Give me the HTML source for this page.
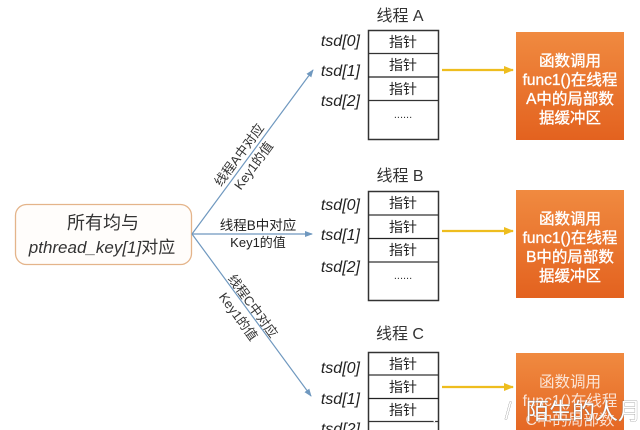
<!DOCTYPE html>
<html><head><meta charset="utf-8"><style>
html,body{margin:0;padding:0;background:#fff;width:640px;height:430px;overflow:hidden;}
svg{display:block;overflow:hidden;}
text{font-family:"Liberation Sans","Noto Sans CJK SC",sans-serif;}
</style></head><body>
<svg width="640" height="430" viewBox="0 0 640 430" xmlns="http://www.w3.org/2000/svg">
<defs>
<linearGradient id="og" x1="0" y1="0" x2="0" y2="1">
<stop offset="0" stop-color="#f08a40"/><stop offset="1" stop-color="#e3621f"/>
</linearGradient>
<clipPath id="cp"><rect x="0" y="0" width="640" height="430"/></clipPath>
<marker id="ab" markerWidth="8" markerHeight="8" refX="7" refY="4" orient="auto" markerUnits="userSpaceOnUse">
<path d="M0,1 L8,4 L0,7 Z" fill="#6f98bf"/></marker>
<marker id="ay" markerWidth="10" markerHeight="10" refX="9" refY="5" orient="auto" markerUnits="userSpaceOnUse">
<path d="M0,1 L10,5 L0,9 Z" fill="#eebd1e"/></marker>
</defs>
<g clip-path="url(#cp)">
<!-- left box -->
<rect x="15.5" y="204.5" width="176" height="60" rx="11" fill="#fffdfb" stroke="#e4b48a" stroke-width="1.3"/>
<text x="103" y="229" font-size="18" fill="#333" text-anchor="middle">所有均与</text>
<text x="102" y="253" font-size="17" fill="#333" text-anchor="middle"><tspan font-style="italic">pthread_key[1]</tspan>对应</text>

<!-- blue connectors -->
<line x1="192" y1="234" x2="313" y2="70" stroke="#6f98bf" stroke-width="1.2" marker-end="url(#ab)"/>
<line x1="192" y1="234" x2="312" y2="234" stroke="#6f98bf" stroke-width="1.2" marker-end="url(#ab)"/>
<line x1="192" y1="234" x2="311" y2="396" stroke="#6f98bf" stroke-width="1.2" marker-end="url(#ab)"/>

<g transform="translate(246,160) rotate(-53.6)" font-size="13" fill="#333" text-anchor="middle">
<text x="0" y="-4">线程A中对应</text><text x="0" y="14">Key1的值</text></g>
<text x="258" y="230" font-size="13.5" fill="#222" text-anchor="middle">线程B中对应</text>
<text x="258" y="247" font-size="13" fill="#222" text-anchor="middle">Key1的值</text>
<g transform="translate(246,311) rotate(54)" font-size="13" fill="#333" text-anchor="middle">
<text x="0" y="-4">线程C中对应</text><text x="0" y="14">Key1的值</text></g>

<!-- Section A -->
<text x="400" y="21" font-size="16" fill="#333" text-anchor="middle">线程 A</text>
<g font-size="16" font-style="italic" fill="#222" text-anchor="end">
<text x="360" y="46">tsd[0]</text><text x="360" y="76">tsd[1]</text><text x="360" y="106">tsd[2]</text></g>
<rect x="368.5" y="30.5" width="70" height="109" fill="#fff" stroke="#333" stroke-width="1.5"/>
<line x1="368" y1="53.5" x2="439" y2="53.5" stroke="#333" stroke-width="1.2"/>
<line x1="368" y1="77" x2="439" y2="77" stroke="#222" stroke-width="1.2"/>
<line x1="368" y1="100.5" x2="439" y2="100.5" stroke="#333" stroke-width="1.2"/>
<g font-size="14" fill="#222" text-anchor="middle">
<text x="403" y="47">指针</text><text x="403" y="70">指针</text><text x="403" y="94">指针</text></g>
<text x="403" y="118" font-size="11" fill="#333" text-anchor="middle">......</text>
<line x1="442" y1="70" x2="513" y2="70" stroke="#eebd1e" stroke-width="2.2" marker-end="url(#ay)"/>
<rect x="516" y="32" width="108" height="108" fill="url(#og)"/>
<g font-size="15.5" fill="#fff" stroke="#fff" stroke-width="0.35" text-anchor="middle">
<text x="570" y="66">函数调用</text><text x="570" y="85">func1()在线程</text><text x="570" y="104">A中的局部数</text><text x="570" y="123">据缓冲区</text></g>

<!-- Section B -->
<text x="400" y="181" font-size="16" fill="#333" text-anchor="middle">线程 B</text>
<g font-size="16" font-style="italic" fill="#222" text-anchor="end">
<text x="360" y="210">tsd[0]</text><text x="360" y="240">tsd[1]</text><text x="360" y="272">tsd[2]</text></g>
<rect x="368.5" y="191.5" width="70" height="109" fill="#fff" stroke="#333" stroke-width="1.5"/>
<line x1="368" y1="215" x2="439" y2="215" stroke="#333" stroke-width="1.2"/>
<line x1="368" y1="238.5" x2="439" y2="238.5" stroke="#222" stroke-width="1.2"/>
<line x1="368" y1="262" x2="439" y2="262" stroke="#333" stroke-width="1.2"/>
<g font-size="14" fill="#222" text-anchor="middle">
<text x="403" y="208">指针</text><text x="403" y="232">指针</text><text x="403" y="255">指针</text></g>
<text x="403" y="279" font-size="11" fill="#333" text-anchor="middle">......</text>
<line x1="442" y1="231" x2="513" y2="231" stroke="#eebd1e" stroke-width="2.2" marker-end="url(#ay)"/>
<rect x="516" y="190" width="108" height="108" fill="url(#og)"/>
<g font-size="15.5" fill="#fff" stroke="#fff" stroke-width="0.35" text-anchor="middle">
<text x="570" y="224">函数调用</text><text x="570" y="243">func1()在线程</text><text x="570" y="262">B中的局部数</text><text x="570" y="281">据缓冲区</text></g>

<!-- Section C -->
<text x="400" y="339" font-size="16" fill="#333" text-anchor="middle">线程 C</text>
<g font-size="16" font-style="italic" fill="#222" text-anchor="end">
<text x="360" y="373">tsd[0]</text><text x="360" y="404">tsd[1]</text><text x="360" y="434">tsd[2]</text></g>
<rect x="368.5" y="352.5" width="70" height="90" fill="#fff" stroke="#333" stroke-width="1.5"/>
<line x1="368" y1="375" x2="439" y2="375" stroke="#333" stroke-width="1.2"/>
<line x1="368" y1="398.5" x2="439" y2="398.5" stroke="#222" stroke-width="1.2"/>
<line x1="368" y1="421.5" x2="439" y2="421.5" stroke="#333" stroke-width="1.2"/>
<g font-size="14" fill="#222" text-anchor="middle">
<text x="403" y="369">指针</text><text x="403" y="392">指针</text><text x="403" y="415">指针</text></g>
<line x1="442" y1="387" x2="513" y2="387" stroke="#eebd1e" stroke-width="2.2" marker-end="url(#ay)"/>
<rect x="516" y="353" width="108" height="90" fill="url(#og)"/>
<g font-size="15.5" fill="#fff" text-anchor="middle" opacity="0.8">
<text x="570" y="387">函数调用</text><text x="570" y="406">func1()在线程</text><text x="570" y="425">C中的局部数</text></g>

<!-- watermark -->
<g font-size="23" fill="#fff" stroke="#666" stroke-width="0.5" paint-order="stroke">
<text x="505" y="419">/</text><text x="526" y="419">陌生的人月</text></g>
<text x="432" y="418" font-size="18" fill="#fff">|</text>
</g>
</svg>
</body></html>
